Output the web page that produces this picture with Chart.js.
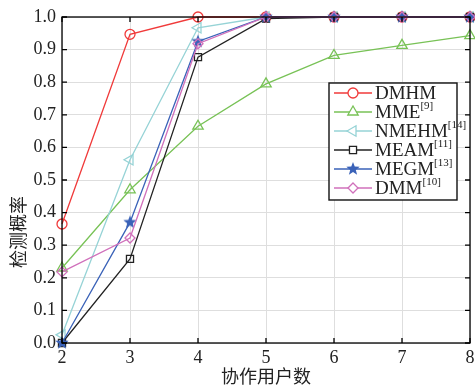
<!DOCTYPE html>
<html>
<head>
<meta charset="utf-8">
<script src="https://cdn.jsdelivr.net/npm/chart.js@4.4.1/dist/chart.umd.min.js"></script>
<style>
  html, body { margin: 0; padding: 0; background: #fff; }
  #wrap { width: 475px; height: 387px; position: relative; }
</style>
</head>
<body>
<div id="wrap"><canvas id="pdChart"></canvas></div>
<script>
// data
const users = [2, 3, 4, 5, 6, 7, 8];
const yTicks = [0, 0.1, 0.2, 0.3, 0.4, 0.5, 0.6, 0.7, 0.8, 0.9, 1.0];
const seriesNames = ['DMHM', 'MME', 'NMEHM', 'MEAM', 'MEGM', 'DMM'];
const seriesRefs = ['', '[9]', '[14]', '[11]', '[13]', '[10]'];
const dmhm  = [0.365, 0.947, 1.0, 1.0, 1.0, 1.0, 1.0];
const mme   = [0.230, 0.470, 0.665, 0.795, 0.882, 0.913, 0.943];
const nmehm = [0.025, 0.562, 0.967, 1.0, 1.0, 1.0, 1.0];
const meam  = [0.0, 0.258, 0.877, 0.995, 1.0, 1.0, 1.0];
const megm  = [0.0, 0.370, 0.925, 1.0, 1.0, 1.0, 1.0];
const dmm   = [0.218, 0.322, 0.918, 1.0, 1.0, 1.0, 1.0];

const colors = ['#f03a3a', '#78c256', '#96d3d6', '#222222', '#3a62b8', '#d070bb'];

// filled star marker
function makeStar(color, r) {
  const c = document.createElement('canvas');
  c.width = c.height = r * 2 + 2;
  const g = c.getContext('2d');
  g.fillStyle = color;
  g.beginPath();
  for (let i = 0; i < 10; i++) {
    const rad = i % 2 === 0 ? r : r * 0.42;
    const a = -Math.PI / 2 + i * Math.PI / 5;
    const px = c.width / 2 + rad * Math.cos(a);
    const py = c.height / 2 + rad * Math.sin(a);
    if (i === 0) g.moveTo(px, py); else g.lineTo(px, py);
  }
  g.closePath();
  g.fill();
  return c;
}
const star = makeStar('#3a62b8', 7);

const styles = [
  { pointStyle: 'circle', rotation: 0, radius: 5 },
  { pointStyle: 'triangle', rotation: 0, radius: 6 },
  { pointStyle: 'triangle', rotation: -90, radius: 6 },
  { pointStyle: 'rect', rotation: 0, radius: 5 },
  { pointStyle: star, rotation: 0, radius: 7 },
  { pointStyle: 'rectRot', rotation: 0, radius: 5 }
];
const allData = [dmhm, mme, nmehm, meam, megm, dmm];

const serif = "'Liberation Serif', 'Times New Roman', serif";
const cjk = "'Noto Sans CJK SC', sans-serif";

const frameLegend = {
  id: 'frameLegend',
  afterDraw(chart) {
    const ctx = chart.ctx;
    const a = chart.chartArea;
    const xs = chart.scales.x, ys = chart.scales.y;
    ctx.save();
    ctx.strokeStyle = '#000';
    ctx.lineWidth = 1.3;
    ctx.strokeRect(a.left, a.top, a.right - a.left, a.bottom - a.top);
    // inward ticks
    ctx.beginPath();
    users.forEach(v => {
      const px = xs.getPixelForValue(v);
      ctx.moveTo(px, a.bottom); ctx.lineTo(px, a.bottom - 5);
      ctx.moveTo(px, a.top); ctx.lineTo(px, a.top + 5);
    });
    yTicks.forEach(v => {
      const py = ys.getPixelForValue(v);
      ctx.moveTo(a.left, py); ctx.lineTo(a.left + 5, py);
      ctx.moveTo(a.right, py); ctx.lineTo(a.right - 5, py);
    });
    ctx.stroke();

    // y title
    ctx.save();
    ctx.translate(18, 232);
    ctx.rotate(-Math.PI / 2);
    ctx.fillStyle = '#222';
    ctx.font = '18px ' + cjk;
    ctx.textAlign = 'center';
    ctx.textBaseline = 'middle';
    ctx.fillText('检测概率', 0, 0);
    ctx.restore();

    // legend
    const lx = 329, ly = 83, lw = 128, lh = 117;
    ctx.fillStyle = '#fff';
    ctx.fillRect(lx, ly, lw, lh);
    ctx.lineWidth = 1.4;
    ctx.strokeStyle = '#111';
    ctx.strokeRect(lx, ly, lw, lh);
    seriesNames.forEach((name, i) => {
      const y = 93 + i * 19;
      ctx.strokeStyle = colors[i];
      ctx.lineWidth = 1.3;
      ctx.beginPath();
      ctx.moveTo(334, y); ctx.lineTo(372, y);
      ctx.stroke();
      ctx.fillStyle = '#fff';
      Chart.helpers.drawPoint(ctx, {
        pointStyle: styles[i].pointStyle,
        rotation: styles[i].rotation,
        radius: styles[i].radius,
        borderWidth: 1.3
      }, 353, y);
      ctx.fillStyle = '#222';
      ctx.font = '19px ' + serif;
      ctx.textAlign = 'left';
      ctx.textBaseline = 'middle';
      ctx.fillText(name, 375, y + 1);
      const w = ctx.measureText(name).width;
      ctx.font = '11px ' + serif;
      ctx.fillText(seriesRefs[i], 375 + w, y - 6);
    });
    ctx.restore();
  }
};

new Chart(document.getElementById('pdChart'), {
  type: 'line',
  data: {
    datasets: seriesNames.map((name, i) => ({
      label: name + seriesRefs[i],
      data: users.map((u, j) => ({ x: u, y: allData[i][j] })),
      borderColor: colors[i],
      backgroundColor: colors[i],
      borderWidth: 1.3,
      pointStyle: styles[i].pointStyle,
      pointRotation: styles[i].rotation,
      pointRadius: styles[i].radius,
      pointBorderColor: colors[i],
      pointBackgroundColor: 'rgba(0,0,0,0)',
      pointBorderWidth: 1.3,
      tension: 0,
      clip: false,
      order: 5 - i
    }))
  },
  options: {
    responsive: true,
    maintainAspectRatio: false,
    animation: false,
    devicePixelRatio: 1,
    layout: { autoPadding: false, padding: { top: 17, right: 5, left: 0, bottom: 0 } },
    plugins: { legend: { display: false }, tooltip: { enabled: false } },
    scales: {
      x: {
        type: 'linear',
        min: 2, max: 8,
        afterFit(s) { s.height = 44; s.paddingRight = 0; s.paddingLeft = 0; },
        afterBuildTicks(s) { s.ticks = users.map(v => ({ value: v })); },
        grid: { color: '#dedede', lineWidth: 1, drawTicks: false },
        border: { display: false },
        ticks: {
          color: '#222',
          font: { family: serif, size: 18 },
          padding: 4,
          maxRotation: 0,
          callback: v => String(v)
        },
        title: {
          display: true,
          text: '协作用户数',
          color: '#222',
          font: { family: cjk, size: 18 },
          padding: { top: -4, bottom: 0 }
        }
      },
      y: {
        min: 0, max: 1,
        afterFit(s) { s.width = 62; },
        afterBuildTicks(s) { s.ticks = yTicks.map(v => ({ value: v })); },
        grid: { color: '#dedede', lineWidth: 1, drawTicks: false },
        border: { display: false },
        ticks: {
          color: '#222',
          font: { family: serif, size: 18 },
          padding: 6,
          callback: v => v.toFixed(1)
        }
      }
    }
  },
  plugins: [frameLegend]
});
</script>
</body>
</html>
